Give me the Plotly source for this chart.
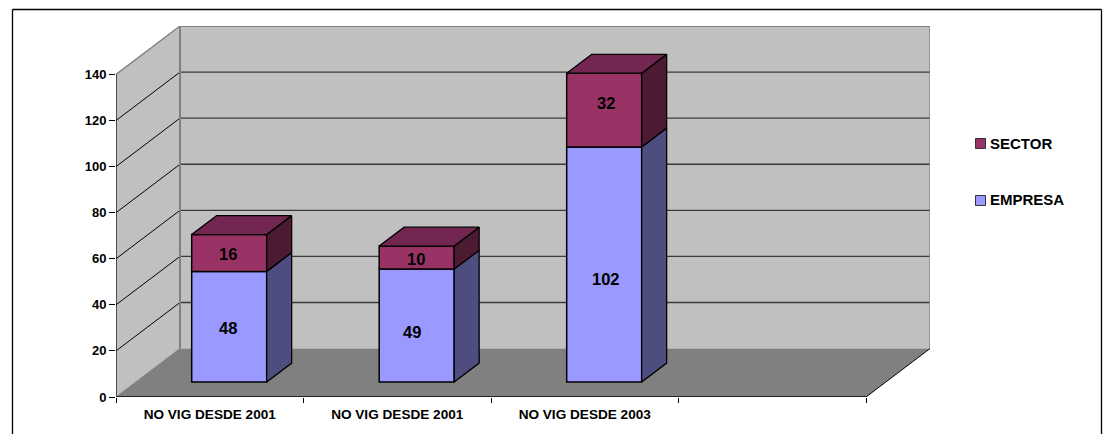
import plotly.graph_objects as go

# ---- data -------------------------------------------------------------
categories = ["NO VIG DESDE 2001", "NO VIG DESDE 2001", "NO VIG DESDE 2003", " "]
empresa = [48, 49, 102]
sector = [16, 10, 32]
y_ticks = [0, 20, 40, 60, 80, 100, 120, 140]

# ---- style / geometry -------------------------------------------------
FONT = "Liberation Sans, Arial, sans-serif"
W, H = 1111, 434
L, R, T, B = 116, 930, 26, 397       # plot area in pixels
CAT_PX = 187.5                       # width of a category on the floor
DX_PX, DY_PX = 64.0, 48.5            # oblique offset of the whole depth
YMAX = 140
UNIT_PX = (397 - 74) / YMAX
DEPTH_X = DX_PX / CAT_PX             # depth in x-axis units
DEPTH_Y = DY_PX / UNIT_PX            # depth in y-axis units
N = len(categories)
BAR_W = 0.4
BAR_SHIFT = -0.4 / CAT_PX
D0, D1 = 0.31, 0.70                  # depth span of bars
# label nudges relative to the bar centres, in pixels (as placed in the reference)
EMP_NUDGE_Y = [-1, -6, -15]
SEC_NUDGE_Y = [-1, -1, 7]
EMP_NUDGE_X = [-1, -5, 2]
SEC_NUDGE_X = [-1, -1, 1.5]

C_EMP = ("#9999FF", "#4D4D80")
C_SEC = ("#993366", "#4D1A33", "#732650")


def proj(x, y, d):
    return x + d * DEPTH_X, y + d * DEPTH_Y


def path(pts):
    return "M" + "L".join(f"{a},{b}" for a, b in pts) + "Z"


shapes = []
def wall(pts, fill, line="rgba(0,0,0,0)", w=0):
    shapes.append(dict(type="path", path=path(pts), xref="x", yref="y", layer="below",
                       fillcolor=fill, line=dict(color=line, width=w)))


def seg(a, b, color, w):
    shapes.append(dict(type="line", xref="x", yref="y", layer="below",
                       x0=a[0], y0=a[1], x1=b[0], y1=b[1], line=dict(color=color, width=w)))


wall([proj(0, 0, 0), proj(0, 0, 1), proj(0, YMAX, 1), proj(0, YMAX, 0)], "#C0C0C0")
wall([proj(0, 0, 1), proj(N, 0, 1), proj(N, YMAX, 1), proj(0, YMAX, 1)], "#C0C0C0")
wall([proj(0, 0, 0), proj(N, 0, 0), proj(N, 0, 1), proj(0, 0, 1)], "#808080")
for v in y_ticks[1:-1]:
    seg(proj(0, v, 0), proj(0, v, 1), "#000000", 1)
    seg(proj(0, v, 1), proj(N, v, 1), "#3a3a3a", 1.3)
seg(proj(0, YMAX, 0), proj(0, YMAX, 1), "#808080", 1.3)
seg(proj(0, YMAX, 1), proj(N, YMAX, 1), "#808080", 2)
seg(proj(0, 0, 1), proj(0, YMAX, 1), "#808080", 2)
seg(proj(N, 0, 1), proj(N, YMAX, 1), "#808080", 1.3)
seg(proj(0, 0, 0), proj(0, 0, 1), "#808080", 1)
seg(proj(N, 0, 0), proj(N, 0, 1), "#000000", 1)

fig = go.Figure()

centers = [i + 0.5 + BAR_SHIFT + D0 * DEPTH_X for i in range(len(empresa))]
floor_y = D0 * DEPTH_Y
EDGE = dict(color="#000", width=1.5)
fig.add_trace(go.Bar(x=centers, y=empresa, base=[floor_y] * len(empresa), width=BAR_W, name="EMPRESA",
                     marker=dict(color=C_EMP[0], line=EDGE), showlegend=False))
fig.add_trace(go.Bar(x=centers, y=sector, base=[floor_y + v for v in empresa], width=BAR_W, name="SECTOR",
                     marker=dict(color=C_SEC[0], line=EDGE), showlegend=False))


def face(pts, fill):
    xs = [p[0] for p in pts] + [pts[0][0]]
    ys = [p[1] for p in pts] + [pts[0][1]]
    fig.add_trace(go.Scatter(x=xs, y=ys, mode="lines", fill="toself", fillcolor=fill,
                             line=dict(color="#000", width=1.3), hoverinfo="skip", showlegend=False))


for i, (e, s) in enumerate(zip(empresa, sector)):
    x1 = i + 0.5 + BAR_SHIFT + BAR_W / 2
    x0 = i + 0.5 + BAR_SHIFT - BAR_W / 2
    face([proj(x1, 0, D0), proj(x1, 0, D1), proj(x1, e, D1), proj(x1, e, D0)], C_EMP[1])
    face([proj(x1, e, D0), proj(x1, e, D1), proj(x1, e + s, D1), proj(x1, e + s, D0)], C_SEC[1])
    face([proj(x0, e + s, D0), proj(x1, e + s, D0), proj(x1, e + s, D1), proj(x0, e + s, D1)], C_SEC[2])

# visible parts of axes
fig.add_trace(go.Scatter(x=[0, 0], y=[0, YMAX], mode="lines", line=dict(color="#000", width=1.2),
                         hoverinfo="skip", showlegend=False))
fig.add_trace(go.Scatter(x=[0, N], y=[0, 0], mode="lines", line=dict(color="#222", width=2.2),
                         hoverinfo="skip", showlegend=False, cliponaxis=False))

pw, ph = R - L, B - T
def px(x): return (x - L) / pw
def py(y): return (B - y) / ph

# outer border: left, top and right sides only (bottom lies outside the picture)
for x0, y0, x1, y1 in ((12.5, 434, 12.5, 9.5), (12.5, 9.5, 1101.5, 9.5), (1101.5, 9.5, 1101.5, 434)):
    shapes.append(dict(type="line", xref="paper", yref="paper", x0=px(x0), y0=py(y0), x1=px(x1), y1=py(y1),
                       line=dict(color="#000", width=1.3), layer="below"))

annots = []
# value labels
for i in range(len(empresa)):
    for val, base, ny, nx in ((empresa[i], floor_y, EMP_NUDGE_Y[i], EMP_NUDGE_X[i]),
                              (sector[i], floor_y + empresa[i], SEC_NUDGE_Y[i], SEC_NUDGE_X[i])):
        annots.append(dict(x=centers[i], y=base + val / 2, yshift=ny, xshift=nx, xref="x", yref="y",
                           text=f"<b>{val}</b>", showarrow=False,
                           font=dict(family=FONT, size=16.5, color="#000")))

# legend
for name, col, yc in (("SECTOR", C_SEC[0], 143.5), ("EMPRESA", C_EMP[0], 200.5)):
    shapes.append(dict(type="rect", xref="paper", yref="paper", x0=px(975.5), x1=px(985.5),
                       y0=py(yc + 5), y1=py(yc - 5), fillcolor=col, line=dict(color="#333", width=1)))
    annots.append(dict(xref="paper", yref="paper", x=px(988), y=py(yc - 0.5), xanchor="left", yanchor="middle",
                       text=f"<b>{name}</b>", showarrow=False, font=dict(family=FONT, size=15, color="#000")))

xfont = dict(family=FONT, size=13.6, color="#000", weight="bold")
yfont = dict(family=FONT, size=13, color="#000", weight="bold")
fig.update_layout(
    width=W, height=H, autosize=False, barmode="overlay", showlegend=False,
    margin=dict(l=L, r=W - R, t=T, b=H - B, pad=0),
    paper_bgcolor="#fff", plot_bgcolor="#fff", shapes=shapes, annotations=annots,
    xaxis=dict(range=[0, N + DEPTH_X], showgrid=False, zeroline=False, showline=False, automargin=False,
               tickmode="array", tickvals=[i + 0.5 for i in range(N)], ticktext=categories,
               ticks="outside", ticklen=5, tickcolor="rgba(0,0,0,0)", tickfont=xfont,
               minor=dict(tickmode="array", tickvals=list(range(N + 1)), ticks="outside", ticklen=5,
                          tickcolor="#000", tickwidth=1, showgrid=False)),
    yaxis=dict(range=[0, YMAX + DEPTH_Y], showgrid=False, zeroline=False, showline=False, automargin=False,
               tickmode="array", tickvals=y_ticks, ticks="outside", ticklen=6, tickcolor="#000",
               tickwidth=1, tickfont=yfont),
)

fig.write_html("out.html", config=dict(displayModeBar=False),
               post_script="document.body.style.margin='0';document.body.style.overflow='hidden';")
